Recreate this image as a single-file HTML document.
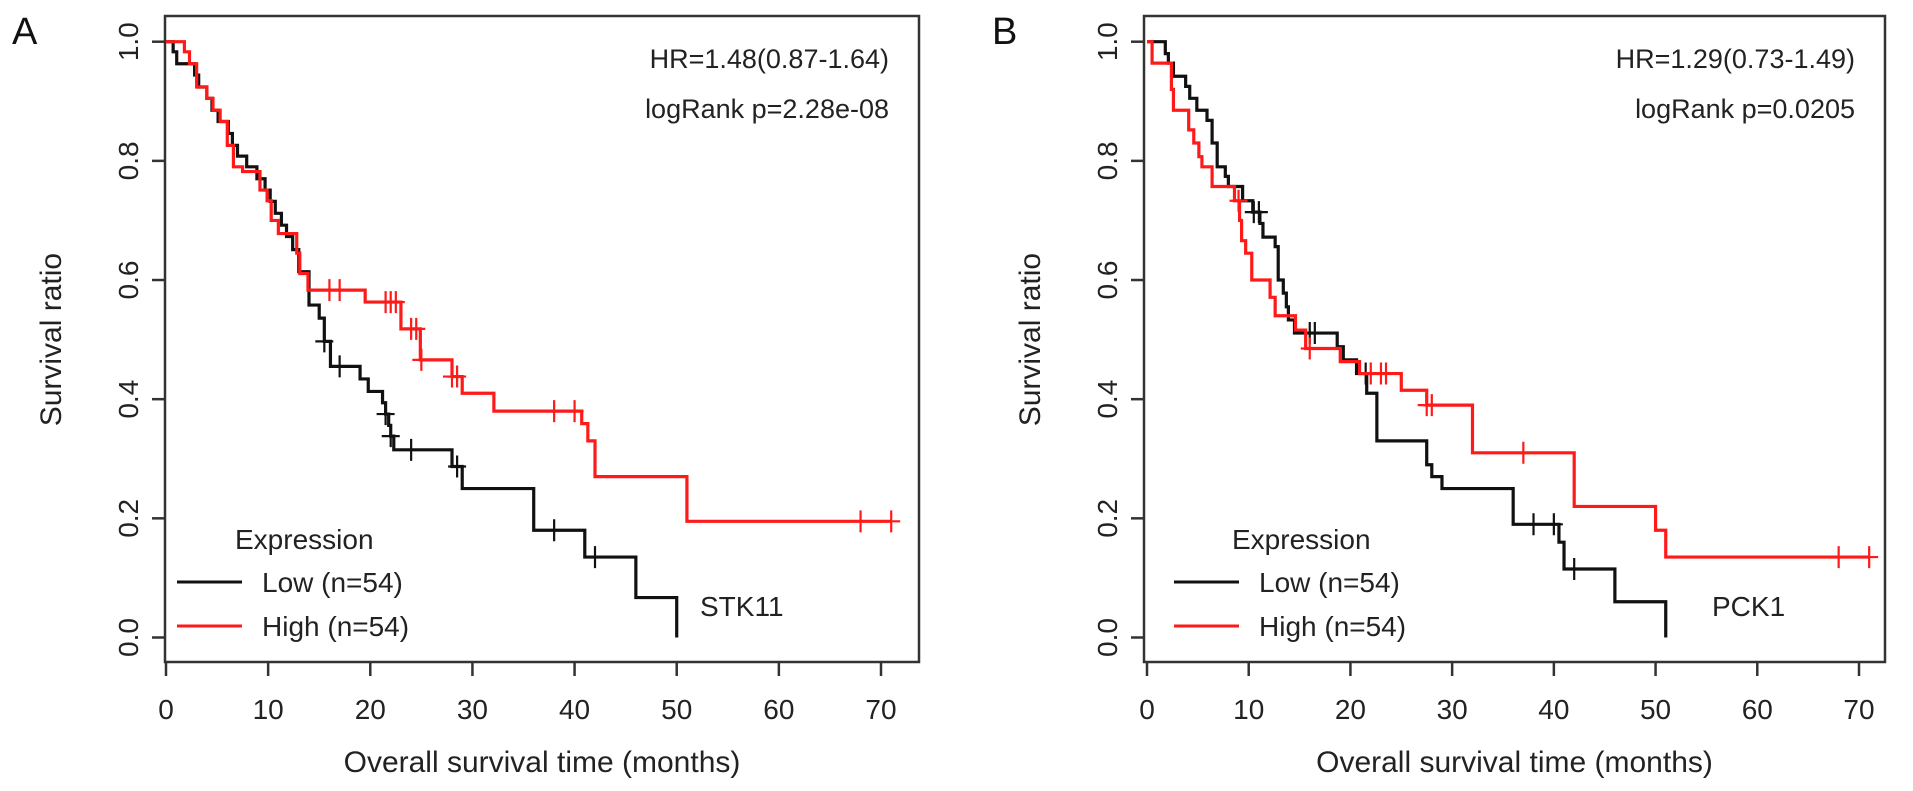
<!DOCTYPE html>
<html><head><meta charset="utf-8"><style>
html,body{margin:0;padding:0;background:#fff;}
svg{display:block;font-family:"Liberation Sans",sans-serif;}
</style></head><body>
<svg id="fig" width="1913" height="791" viewBox="0 0 1913 791"></svg>
<script>
// ---- Panel A data ----
const aLowSteps = [[0,1],[0.7,0.983],[1.05,0.963],[2.8,0.944],[3.2,0.924],[4,0.905],[4.5,0.885],[5.1,0.866],[6.1,0.846],[6.5,0.826],[7,0.808],[7.9,0.79],[8.9,0.77],[9.7,0.751],[10.2,0.732],[10.7,0.712],[11.3,0.692],[11.8,0.673],[12.4,0.651],[13,0.614],[14,0.558],[15,0.536],[15.5,0.497],[16.1,0.455],[19,0.434],[19.8,0.413],[21.2,0.394],[21.5,0.375],[21.8,0.356],[22,0.338],[22.3,0.315],[28,0.287],[29,0.25],[36,0.18],[41,0.135],[46,0.067],[50,0]];
const aLowCens = [15.5,17,21.5,22,24,28.5,38,42];
const aHighSteps = [[0,1],[1.8,0.983],[2.3,0.963],[3,0.924],[4,0.905],[4.6,0.885],[5.3,0.866],[6,0.826],[6.6,0.79],[7.5,0.782],[9.2,0.751],[9.9,0.733],[10.3,0.7],[11,0.678],[12.8,0.645],[13.1,0.611],[13.9,0.583],[19.5,0.563],[23,0.518],[24.9,0.466],[28,0.438],[29,0.41],[32.1,0.38],[40.7,0.359],[41.3,0.33],[42,0.27],[51,0.195]];
const aHighCens = [16,17,21.5,22,22.5,24,24.5,25,28,28.5,38,40,68,71];
// ---- Panel B data ----
const bLowSteps = [[0,1],[1.8,0.98],[2.1,0.964],[2.6,0.942],[3.8,0.925],[4.2,0.905],[4.9,0.885],[5.9,0.868],[6.4,0.83],[6.9,0.79],[7.7,0.774],[8.0,0.757],[9.4,0.733],[10.4,0.714],[11.1,0.695],[11.4,0.672],[12.6,0.656],[12.9,0.6],[13.4,0.578],[13.7,0.555],[13.9,0.533],[14.5,0.511],[18.7,0.488],[19.3,0.466],[20.6,0.443],[21.6,0.41],[22.6,0.33],[27.5,0.29],[28,0.27],[29,0.25],[36,0.19],[40.5,0.16],[41,0.115],[46,0.06],[51,0]];
const bLowCens = [10.5,11,16,16.5,21.5,38,40,42];
const bHighSteps = [[0,1],[0.5,0.964],[2.4,0.92],[2.6,0.885],[4.1,0.852],[4.6,0.83],[5.1,0.807],[5.4,0.79],[6.4,0.757],[8.6,0.733],[9.1,0.7],[9.3,0.666],[9.7,0.645],[10.3,0.6],[12.1,0.571],[12.6,0.54],[14.6,0.516],[15.6,0.485],[19,0.463],[20.9,0.443],[25,0.415],[27.5,0.39],[32,0.31],[42,0.22],[50,0.18],[51,0.135]];
const bHighCens = [9,16,22,23,23.5,27.5,28,37,68,71];
const xTicks = [0,10,20,30,40,50,60,70];
const yTicks = [0,0.2,0.4,0.6,0.8,1.0];
const yTickLabels = ["0.0","0.2","0.4","0.6","0.8","1.0"];

const NS = "http://www.w3.org/2000/svg";
const svg = document.getElementById('fig');
function mk(tag, attrs, parent){const e=document.createElementNS(NS,tag);for(const k in attrs)e.setAttribute(k,attrs[k]);(parent||svg).appendChild(e);return e;}

function panel(cfg){
  const g = mk('g',{});
  
  
  const X = t => cfg.x0 + t*(cfg.x70-cfg.x0)/70;
  const Y = s => 637.5 - s*595.8;
  const box = mk('rect',{x:cfg.left,y:16,width:cfg.right-cfg.left,height:662-16,fill:'none',stroke:'#333','stroke-width':2.5},g);
  
  
  xTicks.forEach(v=>{
    const l = mk('line',{x1:X(v),x2:X(v),y1:662,y2:676,stroke:'#333','stroke-width':2.5},g);
    
    
    const t = mk('text',{x:X(v),y:719,'font-size':28,'text-anchor':'middle',fill:'#222'},g);
    t.textContent = v;
    
    
  });
  yTicks.forEach((v,i)=>{
    const l = mk('line',{x1:cfg.left-13,x2:cfg.left,y1:Y(v),y2:Y(v),stroke:'#333','stroke-width':2.5},g);
    
    
    const t = mk('text',{x:0,y:0,'font-size':28,'text-anchor':'middle',fill:'#222',transform:`translate(${cfg.left-27},${Y(v)}) rotate(-90)`},g);
    t.textContent = yTickLabels[i];
    
    
  });
  const xt = mk('text',{x:(cfg.left+cfg.right)/2,y:772,'font-size':30,'text-anchor':'middle',fill:'#222'},g);
  xt.textContent = 'Overall survival time (months)';
  
  
  const yt = mk('text',{x:0,y:0,'font-size':30,'text-anchor':'middle',fill:'#222',transform:`translate(${cfg.left-104},${Y(0.5)}) rotate(-90)`},g);
  yt.textContent = 'Survival ratio';
  
  
  const pl = mk('text',{x:cfg.labelX,y:44,'font-size':38,fill:'#111'},g);
  pl.textContent = cfg.letter;
  
  
  const h1 = mk('text',{x:cfg.right-30,y:68,'font-size':27,'text-anchor':'end',fill:'#222'},g);
  h1.textContent = cfg.hr;
  
  
  const h2 = mk('text',{x:cfg.right-30,y:118,'font-size':27,'text-anchor':'end',fill:'#222'},g);
  h2.textContent = cfg.p;
  
  
  function curve(steps, cens, color, end, nm){
    let d = `M${X(steps[0][0])},${Y(steps[0][1])}`;
    for(let i=1;i<steps.length;i++){d += `H${X(steps[i][0])}V${Y(steps[i][1])}`;}
    if(end>steps[steps.length-1][0]) d += `H${X(end)}`;
    const p = mk('path',{d:d,fill:'none',stroke:color,'stroke-width':3.2},g);
    
    
    cens.forEach(c=>{
      let s = steps[0][1];
      for(const st of steps){ if(st[0]<=c) s=st[1]; }
      const m = mk('path',{d:`M${X(c)-9},${Y(s)}H${X(c)+9}M${X(c)},${Y(s)-11}V${Y(s)+11}`,stroke:color,'stroke-width':2.2,fill:'none'},g);
      
      
    });
  }
  curve(cfg.low, cfg.lowC, '#111', 0, 'low-expression');
  curve(cfg.high, cfg.highC, '#ff1a1a', 71, 'high-expression');
  const lg = mk('g',{},g);
  
  
  const lt = mk('text',{x:cfg.legX+58,y:549,'font-size':28,fill:'#222'},lg);
  lt.textContent='Expression';
  
  
  [['Low (n=54)','#111',582],['High (n=54)','#ff1a1a',626]].forEach(([txt,col,yy])=>{
    const ln = mk('line',{x1:cfg.legX,x2:cfg.legX+65,y1:yy,y2:yy,stroke:col,'stroke-width':3},lg);
    
    
    const tx = mk('text',{x:cfg.legX+85,y:yy+10,'font-size':28,fill:'#222'},lg);
    tx.textContent = txt;
    
    
  });
  const gn = mk('text',{x:cfg.geneX,y:616,'font-size':28,fill:'#222'},g);
  gn.textContent = cfg.gene;
  
  
}

panel({name:'panel-a',letter:'A',labelX:12,left:165,right:919,x0:166,x70:881,hr:'HR=1.48(0.87-1.64)',p:'logRank p=2.28e-08',
  low:aLowSteps,lowC:aLowCens,high:aHighSteps,highC:aHighCens,legX:177,geneX:700,gene:'STK11'});
panel({name:'panel-b',letter:'B',labelX:992,left:1144,right:1885,x0:1147,x70:1859,hr:'HR=1.29(0.73-1.49)',p:'logRank p=0.0205',
  low:bLowSteps,lowC:bLowCens,high:bHighSteps,highC:bHighCens,legX:1174,geneX:1712,gene:'PCK1'});
</script>
</body></html>
